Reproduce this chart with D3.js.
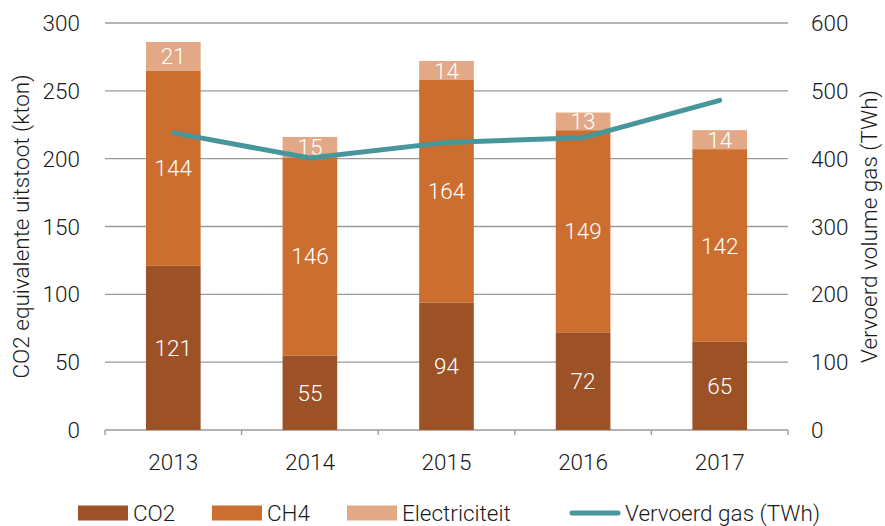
<!DOCTYPE html>
<html>
<head>
<meta charset="utf-8">
<script src="https://cdn.jsdelivr.net/npm/d3@7"></script>
<style>
  body { margin: 0; background: #fff; }
  text { font-family: Roboto, sans-serif; font-weight: 300; fill: #1a1a1a; }
</style>
</head>
<body>
<div id="chart"></div>
<script>
const years = ['2013', '2014', '2015', '2016', '2017'];
const co2 = [121, 55, 94, 72, 65];
const ch4 = [144, 146, 164, 149, 142];
const elec = [21, 15, 14, 13, 14];
const gas = [438, 401, 424, 431, 486];
const leftTicks = [0, 50, 100, 150, 200, 250, 300];
const rightTicks = [0, 100, 200, 300, 400, 500, 600];

const seriesNames = ['CO2', 'CH4', 'Electriciteit'];
const colors = ['#9c5127', '#cc6e2f', '#e3a886'];
const lineColor = '#46969b';

const width = 885, height = 526;
const margin = {left: 105, right: 97, top: 23, bottom: 96};
const fs = '22.5px';

const svg = d3.select('#chart').append('svg')
  .attr('width', width)
  .attr('height', height);

const x = d3.scaleBand()
  .domain(years)
  .range([margin.left, width - margin.right])
  .paddingInner(0.6)
  .paddingOuter(0.3);

const y = d3.scaleLinear().domain([0, 300]).range([height - margin.bottom, margin.top]);
const y2 = d3.scaleLinear().domain([0, 600]).range([height - margin.bottom, margin.top]);

// gridlines
svg.append('g').selectAll('line')
  .data(leftTicks.slice(1))
  .enter().append('line')
  .attr('x1', margin.left).attr('x2', width - margin.right)
  .attr('y1', d => y(d)).attr('y2', d => y(d))
  .attr('stroke', '#9a9a9a').attr('stroke-width', 1.3);

// baseline + ticks
const base = y(0);
svg.append('line')
  .attr('x1', margin.left).attr('x2', width - margin.right)
  .attr('y1', base).attr('y2', base)
  .attr('stroke', '#9a9a9a').attr('stroke-width', 1.3);
const step = x.step();
const sepX = d3.range(years.length + 1).map(i => margin.left + i * step);
svg.append('g').selectAll('line')
  .data(sepX)
  .enter().append('line')
  .attr('x1', d => d).attr('x2', d => d)
  .attr('y1', base).attr('y2', base + 5)
  .attr('stroke', '#9a9a9a').attr('stroke-width', 1.3);

// stacked bars
const table = years.map((yr, i) => ({year: yr, CO2: co2[i], CH4: ch4[i], Electriciteit: elec[i]}));
const stack = d3.stack().keys(seriesNames)(table);

const layer = svg.append('g').selectAll('g')
  .data(stack)
  .enter().append('g')
  .attr('fill', (d, i) => colors[i]);

layer.selectAll('rect')
  .data(d => d)
  .enter().append('rect')
  .attr('x', d => x(d.data.year))
  .attr('width', x.bandwidth())
  .attr('y', d => y(d[1]))
  .attr('height', d => y(d[0]) - y(d[1]));

layer.selectAll('text')
  .data(d => d)
  .enter().append('text')
  .attr('x', d => x(d.data.year) + x.bandwidth() / 2)
  .attr('y', d => (y(d[0]) + y(d[1])) / 2)
  .attr('dy', '0.36em')
  .attr('text-anchor', 'middle')
  .style('fill', '#fff')
  .style('font-size', fs)
  .text(d => d[1] - d[0]);

// line
const line = d3.line()
  .x((d, i) => x(years[i]) + x.bandwidth() / 2)
  .y(d => y2(d));
svg.append('path')
  .datum(gas)
  .attr('d', line)
  .attr('fill', 'none')
  .attr('stroke', lineColor)
  .attr('stroke-width', 5)
  .attr('stroke-linecap', 'round')
  .attr('stroke-linejoin', 'round');

// left axis labels
svg.append('g').selectAll('text')
  .data(leftTicks)
  .enter().append('text')
  .attr('x', 80)
  .attr('y', d => y(d))
  .attr('dy', '0.36em')
  .attr('text-anchor', 'end')
  .style('font-size', fs)
  .text(d => d);

// right axis labels
svg.append('g').selectAll('text')
  .data(rightTicks)
  .enter().append('text')
  .attr('x', 811)
  .attr('y', d => y2(d))
  .attr('dy', '0.36em')
  .attr('text-anchor', 'start')
  .style('font-size', fs)
  .text(d => d);

// x labels
svg.append('g').selectAll('text')
  .data(years)
  .enter().append('text')
  .attr('x', d => x(d) + x.bandwidth() / 2)
  .attr('y', 462)
  .attr('dy', '0.36em')
  .attr('text-anchor', 'middle')
  .style('font-size', fs)
  .text(d => d);

// axis titles
svg.append('text')
  .attr('transform', `translate(21,${(y(0) + y(300)) / 2}) rotate(-90)`)
  .attr('text-anchor', 'middle')
  .attr('dy', '0.36em')
  .style('font-size', fs)
  .text('CO2 equivalente uitstoot (kton)');

svg.append('text')
  .attr('transform', `translate(869,${(y(0) + y(300)) / 2}) rotate(-90)`)
  .attr('text-anchor', 'middle')
  .attr('dy', '0.36em')
  .style('font-size', fs)
  .text('Vervoerd volume gas (TWh)');

// legend
const legendY = 513;
const legendItems = [
  {name: 'CO2', color: colors[0], x: 78, type: 'rect'},
  {name: 'CH4', color: colors[1], x: 212, type: 'rect'},
  {name: 'Electriciteit', color: colors[2], x: 347, type: 'rect'},
  {name: 'Vervoerd gas (TWh)', color: lineColor, x: 570, type: 'line'}
];
const lg = svg.append('g').selectAll('g')
  .data(legendItems)
  .enter().append('g')
  .attr('transform', d => `translate(${d.x},${legendY})`);

lg.filter(d => d.type === 'rect').append('rect')
  .attr('x', 0).attr('y', -7.5)
  .attr('width', 50).attr('height', 15)
  .attr('fill', d => d.color);

lg.filter(d => d.type === 'line').append('line')
  .attr('x1', 2).attr('x2', 48)
  .attr('y1', 0).attr('y2', 0)
  .attr('stroke', d => d.color)
  .attr('stroke-width', 5)
  .attr('stroke-linecap', 'round');

lg.append('text')
  .attr('x', 55)
  .attr('y', 0)
  .attr('dy', '0.36em')
  .style('font-size', fs)
  .text(d => d.name);
</script>
</body>
</html>
